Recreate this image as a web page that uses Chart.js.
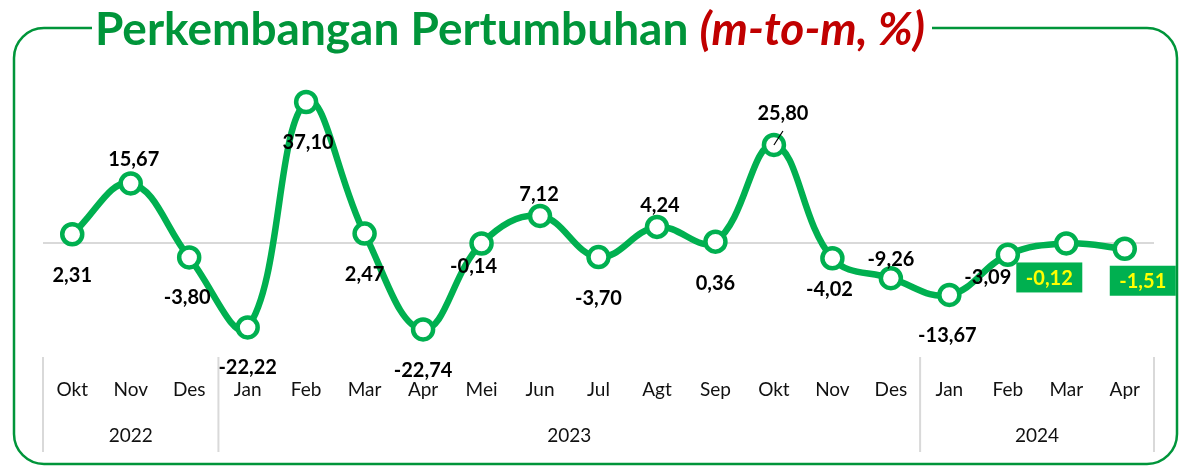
<!DOCTYPE html>
<html>
<head>
<meta charset="utf-8">
<script src="https://cdn.jsdelivr.net/npm/chart.js@4.4.1/dist/chart.umd.min.js"></script>
<style>
  html, body { margin: 0; padding: 0; background: #fff; }
  #c { display: block; }
</style>
</head>
<body>
<canvas id="c" width="1179" height="469"></canvas>
<script>
// ─── Data ────────────────────────────────────────────────────────────────
const months = ['Okt', 'Nov', 'Des', 'Jan', 'Feb', 'Mar', 'Apr', 'Mei', 'Jun', 'Jul',
  'Agt', 'Sep', 'Okt', 'Nov', 'Des', 'Jan', 'Feb', 'Mar', 'Apr'];
const years = ['2022', '2023', '2024'];
const yearCounts = [3, 12, 4];
const growth = [2.31, 15.67, -3.80, -22.22, 37.10, 2.47, -22.74, -0.14, 7.12, -3.70,
  4.24, 0.36, 25.80, -4.02, -9.26, -13.67, -3.09, -0.12, -1.51];

// label placement relative to each point [dx, dy]
const labelOffsets = [
  [0, 40], [3, -25], [-2, 39], [0, 39], [2, 40], [0, 40], [0, 40], [-8, 22], [-1, -22], [0, 40],
  [3, -22], [0, 41], [9, -32], [-3, 30], [0, -20], [-2, 40], [-20, 22], [-17, 34], [18, 32],
];
const boxedLabels = [17, 18];

const GREEN = '#00B050';
const TITLE_GREEN = '#00953A';
const RED = '#C00000';
const FONT = 'Lato, "Noto Sans", sans-serif';

const fmt = v => v.toFixed(2).replace('.', ',');

// ─── Frame, title, zero line, separators ─────────────────────────────────
const backdrop = {
  id: 'backdrop',
  beforeDraw(chart) {
    const ctx = chart.ctx;
    const { left, right } = chart.chartArea;
    const y0 = chart.scales.y.getPixelForValue(0);
    ctx.save();
    ctx.fillStyle = '#fff';
    ctx.fillRect(0, 0, chart.width, chart.height);

    // title
    const green = 'Perkembangan Pertumbuhan ';
    const red = '(m-to-m, %)';
    let size = 40;
    ctx.font = `bold ${size}px ${FONT}`;
    let w1 = ctx.measureText(green).width;
    ctx.font = `italic bold ${size}px ${FONT}`;
    let w2 = ctx.measureText(red).width;
    size = size * 830 / (w1 + w2);
    ctx.font = `bold ${size}px ${FONT}`;
    w1 = ctx.measureText(green).width;
    ctx.textBaseline = 'alphabetic';
    ctx.textAlign = 'left';
    ctx.fillStyle = TITLE_GREEN;
    ctx.fillText(green, 95, 45);
    ctx.font = `italic bold ${size}px ${FONT}`;
    ctx.fillStyle = RED;
    ctx.fillText(red, 95 + w1, 45);

    // rounded frame with gap for title
    const fx = 14, fy = 28, fr = 1177, fb = 464, r = 30;
    ctx.strokeStyle = TITLE_GREEN;
    ctx.lineWidth = 2.5;
    ctx.beginPath();
    ctx.moveTo(92, fy);
    ctx.lineTo(fx + r, fy);
    ctx.arcTo(fx, fy, fx, fy + r, r);
    ctx.lineTo(fx, fb - r);
    ctx.arcTo(fx, fb, fx + r, fb, r);
    ctx.lineTo(fr - r, fb);
    ctx.arcTo(fr, fb, fr, fb - r, r);
    ctx.lineTo(fr, fy + r);
    ctx.arcTo(fr, fy, fr - r, fy, r);
    ctx.lineTo(932, fy);
    ctx.stroke();

    // zero line
    ctx.strokeStyle = '#D9D9D9';
    ctx.lineWidth = 2;
    ctx.beginPath();
    ctx.moveTo(left, y0);
    ctx.lineTo(right, y0);
    ctx.stroke();

    // year separators
    const x = chart.scales.x;
    const half = (x.getPixelForValue(1) - x.getPixelForValue(0)) / 2;
    let idx = 0;
    const seps = [x.getPixelForValue(0) - half];
    yearCounts.forEach(n => { idx += n; seps.push(x.getPixelForValue(idx - 1) + half); });
    ctx.beginPath();
    seps.forEach(sx => { ctx.moveTo(sx, 357); ctx.lineTo(sx, 452); });
    ctx.stroke();
    ctx.restore();
  },
  afterDraw(chart) {
    const ctx = chart.ctx;
    const x = chart.scales.x;
    const half = (x.getPixelForValue(1) - x.getPixelForValue(0)) / 2;
    ctx.save();
    ctx.fillStyle = '#111';
    ctx.font = `19px ${FONT}`;
    ctx.textAlign = 'center';
    ctx.textBaseline = 'middle';
    months.forEach((m, i) => ctx.fillText(m, x.getPixelForValue(i), 390));
    let idx = 0;
    years.forEach((yr, k) => {
      const a = x.getPixelForValue(idx) - half;
      const b = x.getPixelForValue(idx + yearCounts[k] - 1) + half;
      ctx.fillText(yr, (a + b) / 2, 436);
      idx += yearCounts[k];
    });
    ctx.restore();
  },
};

// ─── Data labels ─────────────────────────────────────────────────────────
const valueLabels = {
  id: 'valueLabels',
  afterDatasetsDraw(chart) {
    const ctx = chart.ctx;
    const pts = chart.getDatasetMeta(0).data;
    ctx.save();
    ctx.font = `bold 20px ${FONT}`;
    ctx.textAlign = 'center';
    ctx.textBaseline = 'middle';
    pts.forEach((p, i) => {
      const [dx, dy] = labelOffsets[i];
      const lx = p.x + dx, ly = p.y + dy;
      const txt = fmt(growth[i]);
      if (i === 12) {
        ctx.strokeStyle = '#000';
        ctx.lineWidth = 1.2;
        ctx.beginPath();
        ctx.moveTo(p.x, p.y);
        ctx.lineTo(p.x + 9, p.y - 14);
        ctx.stroke();
      }
      if (boxedLabels.includes(i)) {
        const w = 66, h = 30;
        ctx.fillStyle = GREEN;
        ctx.fillRect(lx - w / 2, ly - h / 2, w, h);
        ctx.fillStyle = '#FFFF00';
      } else {
        ctx.fillStyle = '#000';
      }
      ctx.fillText(txt, lx, ly + 1);
    });
    ctx.restore();
  },
};

new Chart(document.getElementById('c'), {
  type: 'line',
  data: {
    labels: months,
    datasets: [{
      data: growth,
      borderColor: GREEN,
      borderWidth: 6.5,
      tension: 0.4,
      pointRadius: 10,
      pointBorderWidth: 4.5,
      pointBackgroundColor: '#fff',
      pointBorderColor: GREEN,
      clip: false,
    }],
  },
  options: {
    responsive: false,
    animation: false,
    layout: { padding: { left: 43, right: 25, top: 60.6, bottom: 112 } },
    plugins: { legend: { display: false }, tooltip: { enabled: false } },
    scales: {
      x: { display: false, offset: true },
      y: { display: false, min: -30, max: 48 },
    },
  },
  plugins: [backdrop, valueLabels],
});
</script>
</body>
</html>
